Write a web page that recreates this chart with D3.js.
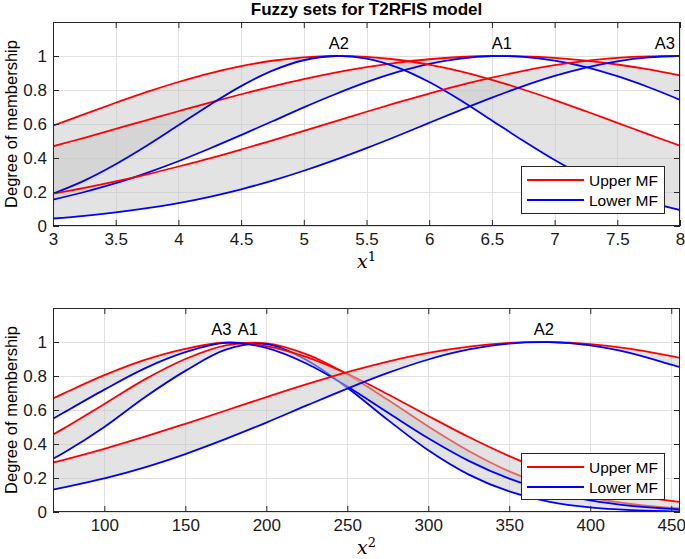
<!DOCTYPE html>
<html>
<head>
<meta charset="utf-8">
<script src="https://cdn.jsdelivr.net/npm/d3@7"></script>
<style>
  html, body { margin: 0; padding: 0; background: #fff; }
  svg { display: block; font-family: "Liberation Sans", Arial, Helvetica, sans-serif; }
</style>
</head>
<body>
<svg id="chart" width="685" height="559"></svg>
<script>
// ---------- data ----------
const title = "Fuzzy sets for T2RFIS model";
const yLabel = "Degree of membership";
const legendLabels = ["Upper MF", "Lower MF"];
const legendColors = ["#ff0000", "#0000ff"];

const yTicks = [0, 0.2, 0.4, 0.6, 0.8, 1];
const x1Ticks = [3, 3.5, 4, 4.5, 5, 5.5, 6, 6.5, 7, 7.5, 8];
const x2Ticks = [100, 150, 200, 250, 300, 350, 400, 450];

// input x^1
const x1 = [3, 3.25, 3.5, 3.75, 4, 4.25, 4.5, 4.75, 5, 5.25, 5.5, 5.75, 6, 6.25, 6.5, 6.75, 7, 7.25, 7.5, 7.75, 8];
const x1A1Upper = [0.469, 0.519, 0.571, 0.623, 0.675, 0.726, 0.775, 0.821, 0.864, 0.902, 0.934, 0.961, 0.981, 0.994, 1.000, 0.998, 0.989, 0.973, 0.950, 0.921, 0.886];
const x1A1Lower = [0.155, 0.200, 0.252, 0.313, 0.381, 0.456, 0.535, 0.616, 0.698, 0.775, 0.846, 0.906, 0.954, 0.985, 0.999, 0.995, 0.973, 0.935, 0.881, 0.816, 0.742];
const x1A2Upper = [0.590, 0.658, 0.725, 0.789, 0.847, 0.898, 0.940, 0.972, 0.992, 1.000, 0.995, 0.978, 0.949, 0.909, 0.860, 0.803, 0.741, 0.675, 0.607, 0.539, 0.472];
const x1A2Lower = [0.190, 0.267, 0.363, 0.473, 0.592, 0.712, 0.823, 0.914, 0.975, 1.000, 0.985, 0.932, 0.847, 0.740, 0.621, 0.501, 0.388, 0.289, 0.207, 0.142, 0.094];
const x1A3Upper = [0.190, 0.224, 0.262, 0.304, 0.350, 0.398, 0.450, 0.504, 0.559, 0.615, 0.672, 0.727, 0.779, 0.829, 0.873, 0.913, 0.946, 0.971, 0.989, 0.998, 0.999];
const x1A3Lower = [0.044, 0.060, 0.080, 0.105, 0.135, 0.172, 0.216, 0.267, 0.325, 0.389, 0.458, 0.531, 0.607, 0.682, 0.755, 0.823, 0.883, 0.932, 0.969, 0.992, 1.000];
const x1SetNames = ["A2", "A1", "A3"];
const x1SetPeaks = [5.28, 6.58, 7.88];

// input x^2
const x2 = [68.3, 75, 100, 125, 150, 175, 200, 225, 250, 275, 300, 325, 350, 375, 400, 425, 450, 455.4];
const x2A1Upper = [0.456, 0.492, 0.635, 0.780, 0.900, 0.980, 0.992, 0.927, 0.809, 0.660, 0.503, 0.359, 0.239, 0.148, 0.086, 0.047, 0.024, 0.021];
const x2A1Lower = [0.313, 0.348, 0.500, 0.675, 0.830, 0.955, 0.988, 0.893, 0.731, 0.542, 0.363, 0.220, 0.121, 0.060, 0.027, 0.011, 0.004, 0.003];
const x2A3Upper = [0.668, 0.698, 0.805, 0.895, 0.960, 0.997, 0.976, 0.911, 0.813, 0.693, 0.565, 0.441, 0.329, 0.234, 0.160, 0.104, 0.065, 0.059];
const x2A3Lower = [0.548, 0.585, 0.720, 0.845, 0.940, 0.995, 0.965, 0.872, 0.738, 0.585, 0.434, 0.301, 0.196, 0.119, 0.068, 0.036, 0.018, 0.016];
const x2A2Upper = [0.291, 0.307, 0.372, 0.443, 0.519, 0.597, 0.676, 0.752, 0.823, 0.885, 0.936, 0.973, 0.995, 1.000, 0.988, 0.960, 0.917, 0.907];
const x2A2Lower = [0.132, 0.145, 0.198, 0.263, 0.341, 0.430, 0.526, 0.627, 0.726, 0.818, 0.897, 0.956, 0.991, 0.999, 0.980, 0.935, 0.867, 0.852];
const x2SetNames = ["A3", "A1", "A2"];
const x2SetPeaks = [172.3, 188.6, 371.4];

// ---------- drawing ----------
const svg = d3.select("#chart");
const AX = "#262626";
const SANS = "\"Liberation Sans\", Arial, sans-serif";

function panel(opts) {
  const { top, bottom, left, right, xDomain, xs, sets, xTicks, names, peaks, xSup, linesOnTop, id } = opts;
  const x = d3.scaleLinear().domain(xDomain).range([left, right]);
  const y = d3.scaleLinear().domain([0, 1.2]).range([bottom, top]);
  const g = svg.append("g");

  g.append("clipPath").attr("id", id).append("rect")
    .attr("x", left).attr("y", top).attr("width", right - left).attr("height", bottom - top);

  // grid
  const grid = g.append("g").attr("stroke", "#e0e0e0").attr("stroke-width", 1);
  grid.selectAll(".gx").data(xTicks).join("line")
    .attr("x1", d => Math.round(x(d)) + 0.5).attr("x2", d => Math.round(x(d)) + 0.5)
    .attr("y1", top).attr("y2", bottom);
  grid.selectAll(".gy").data(yTicks).join("line")
    .attr("y1", d => Math.round(y(d)) + 0.5).attr("y2", d => Math.round(y(d)) + 0.5)
    .attr("x1", left).attr("x2", right);

  const plot = g.append("g").attr("clip-path", `url(#${id})`);
  const line = d3.line().x((d, i) => x(xs[i])).y(d => y(d)).curve(d3.curveCatmullRom.alpha(0.5));
  const area = d3.area().x((d, i) => x(xs[i])).y0(d => y(d[1])).y1(d => y(d[0])).curve(d3.curveCatmullRom.alpha(0.5));

  function drawFill(s) {
    plot.append("path").datum(s.upper.map((u, i) => [u, s.lower[i]]))
      .attr("d", area).attr("fill", "#c8c8c8").attr("fill-opacity", 0.5).attr("stroke", "none");
  }
  function drawLines(s) {
    plot.append("path").datum(s.upper).attr("d", line)
      .attr("fill", "none").attr("stroke", legendColors[0]).attr("stroke-width", 1.8);
    plot.append("path").datum(s.lower).attr("d", line)
      .attr("fill", "none").attr("stroke", legendColors[1]).attr("stroke-width", 1.8);
  }
  if (linesOnTop) {
    sets.forEach(drawFill);
    sets.forEach(drawLines);
  } else {
    sets.forEach(s => { drawFill(s); drawLines(s); });
  }

  // set labels
  g.selectAll(".setlab").data(names).join("text")
    .attr("x", (d, i) => x(peaks[i])).attr("y", y(1) - 7)
    .attr("text-anchor", "middle").attr("font-size", 16.5).attr("fill", "#000")
    .text(d => d);

  // axes
  const xb = g.append("g").attr("transform", `translate(0,${bottom})`)
    .call(d3.axisBottom(x).tickValues(xTicks).tickFormat(d3.format("")).tickSizeInner(-6).tickSizeOuter(0).tickPadding(7));
  const xt = g.append("g").attr("transform", `translate(0,${top})`)
    .call(d3.axisTop(x).tickValues(xTicks).tickFormat("").tickSizeInner(-6).tickSizeOuter(0));
  const yl = g.append("g").attr("transform", `translate(${left},0)`)
    .call(d3.axisLeft(y).tickValues(yTicks).tickFormat(d3.format("")).tickSizeInner(-6).tickSizeOuter(0).tickPadding(6));
  const yr = g.append("g").attr("transform", `translate(${right},0)`)
    .call(d3.axisRight(y).tickValues(yTicks).tickFormat("").tickSizeInner(-6).tickSizeOuter(0));
  [xb, xt, yl, yr].forEach(a => {
    a.select(".domain").remove();
    a.selectAll("line").attr("stroke", AX);
    a.selectAll("text").attr("fill", "#1a1a1a").attr("font-size", 17).attr("font-family", SANS);
  });
  g.append("rect").attr("x", left + 0.5).attr("y", top + 0.5)
    .attr("width", right - left - 1).attr("height", bottom - top - 1)
    .attr("fill", "none").attr("stroke", AX).attr("stroke-width", 1);

  // axis labels
  const xl = g.append("text").attr("x", (left + right) / 2).attr("y", bottom + 42)
    .attr("text-anchor", "middle").attr("fill", "#000")
    .attr("font-family", "\"DejaVu Serif\", \"Liberation Serif\", serif");
  xl.append("tspan").attr("font-style", "italic").attr("font-size", 19).text("x");
  xl.append("tspan").attr("font-size", 13).attr("dy", -7).text(xSup);

  g.append("text")
    .attr("transform", `translate(17,${(top + bottom) / 2}) rotate(-90)`)
    .attr("text-anchor", "middle").attr("font-size", 16.5).attr("fill", "#000")
    .text(yLabel);

  return { g, x, y, left, right, top, bottom };
}

function legend(p, lx, ly, w, h) {
  const lg = p.g.append("g");
  lg.append("rect").attr("x", lx + 0.5).attr("y", ly + 0.5).attr("width", w).attr("height", h)
    .attr("fill", "#fff").attr("stroke", AX).attr("stroke-width", 1);
  legendLabels.forEach((lab, i) => {
    const cy = ly + 14 + i * 20;
    lg.append("line").attr("x1", lx + 6).attr("x2", lx + 63).attr("y1", cy).attr("y2", cy)
      .attr("stroke", legendColors[i]).attr("stroke-width", 2);
    lg.append("text").attr("x", lx + 68).attr("y", cy + 5.5).attr("font-size", 15.5).attr("fill", "#000").text(lab);
  });
}

// title
svg.append("text").attr("x", 366.5).attr("y", 15).attr("text-anchor", "middle")
  .attr("font-size", 17).attr("font-weight", "bold").attr("fill", "#000").text(title);

const p1 = panel({
  id: "clip1", top: 22, bottom: 226, left: 53, right: 680, xDomain: [3, 8], xs: x1,
  sets: [
    { upper: x1A1Upper, lower: x1A1Lower },
    { upper: x1A2Upper, lower: x1A2Lower },
    { upper: x1A3Upper, lower: x1A3Lower }
  ],
  xTicks: x1Ticks, names: x1SetNames, peaks: x1SetPeaks, xSup: "1", linesOnTop: true
});
legend(p1, 521, 166, 143, 47);

const p2 = panel({
  id: "clip2", top: 308, bottom: 512, left: 53, right: 680, xDomain: [68.3, 455.4], xs: x2,
  sets: [
    { upper: x2A1Upper, lower: x2A1Lower },
    { upper: x2A3Upper, lower: x2A3Lower },
    { upper: x2A2Upper, lower: x2A2Lower }
  ],
  xTicks: x2Ticks, names: x2SetNames, peaks: x2SetPeaks, xSup: "2", linesOnTop: false
});
legend(p2, 521, 453, 143, 46);
</script>
</body>
</html>
